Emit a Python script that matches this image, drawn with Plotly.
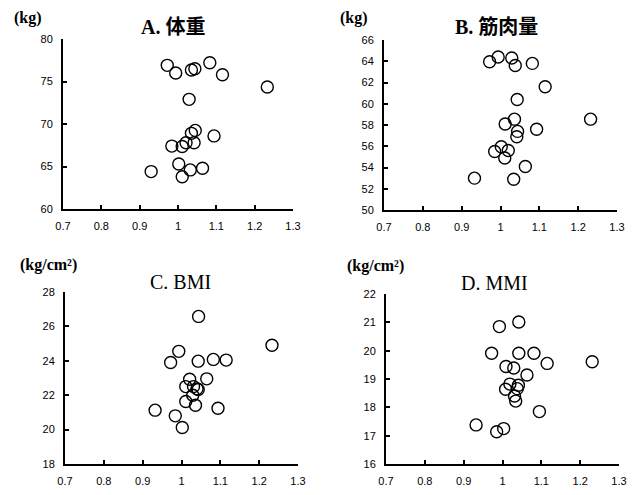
import plotly.graph_objects as go

# Panel A: 体重 (kg)
a_x = [0.930, 0.972, 0.984, 0.994, 1.002, 1.011, 1.011, 1.021, 1.029, 1.032,
       1.035, 1.035, 1.042, 1.044, 1.045, 1.064, 1.083, 1.094, 1.116, 1.233]
a_y = [64.4, 76.9, 67.4, 76.0, 65.3, 67.35, 63.8, 67.8, 72.9, 64.6,
       76.35, 68.9, 67.8, 76.5, 69.25, 64.8, 77.2, 68.6, 75.8, 74.35]

# Panel B: 筋肉量 (kg)
b_x = [0.933, 0.972, 0.985, 0.994, 1.002, 1.011, 1.012, 1.020, 1.029, 1.034,
       1.036, 1.038, 1.042, 1.043, 1.044, 1.064, 1.082, 1.093, 1.115, 1.232]
b_y = [53.0, 63.95, 55.5, 64.4, 55.95, 54.9, 58.1, 55.6, 64.3, 52.9,
       58.55, 63.6, 56.9, 60.4, 57.4, 54.1, 63.8, 57.6, 61.6, 58.55]

# Panel C: BMI (kg/cm2)
c_x = [0.932, 0.972, 0.984, 0.993, 1.002, 1.011, 1.011, 1.021, 1.029, 1.031,
       1.036, 1.040, 1.043, 1.043, 1.044, 1.065, 1.082, 1.094, 1.115, 1.233]
c_y = [21.13, 23.9, 20.8, 24.55, 20.12, 22.5, 21.63, 22.93, 22.0, 22.5,
       21.42, 22.37, 22.33, 23.98, 26.58, 22.95, 24.08, 21.24, 24.04, 24.9]

# Panel D: MMI (kg/cm2)
d_x = [0.932, 0.972, 0.985, 0.992, 1.003, 1.008, 1.009, 1.019, 1.029, 1.031,
       1.034, 1.038, 1.041, 1.042, 1.042, 1.063, 1.081, 1.095, 1.115, 1.231]
d_y = [17.38, 19.91, 17.14, 20.85, 17.25, 18.64, 19.44, 18.82, 19.39, 18.4,
       18.22, 18.66, 18.78, 19.91, 21.01, 19.14, 19.91, 17.85, 19.55, 19.61]

x_ticks = [0.7, 0.8, 0.9, 1.0, 1.1, 1.2, 1.3]
x_ticklabels = ["0.7", "0.8", "0.9", "1", "1.1", "1.2", "1.3"]

titles = ["A. 体重", "B. 筋肉量", "C. BMI", "D. MMI"]
title_weights = ["bold", "bold", "normal", "normal"]
units = ["(kg)", "(kg)", "(kg/cm²)", "(kg/cm²)"]
y_ranges = [[60, 80], [50, 66], [18, 28], [16, 22]]
y_dticks = [5, 2, 2, 1]

panels = [(a_x, a_y), (b_x, b_y), (c_x, c_y), (d_x, d_y)]

W, H = 633, 495
# pixel geometry of plot areas (left, right, top, bottom)
boxes = [(63, 293, 39, 209), (384, 617, 40, 210), (65, 298, 292, 464), (386, 619, 294, 464)]
title_pos = [(173, 27), (496, 27), (180, 282), (494, 283)]
unit_pos = [(28, 18), (354, 18), (48, 265), (375, 266)]

fig = go.Figure()
layout = dict(width=W, height=H, margin=dict(l=0, r=0, t=0, b=0, pad=0, autoexpand=False),
              paper_bgcolor="white", plot_bgcolor="white", showlegend=False)
annotations = []
for i, ((xs, ys), box) in enumerate(zip(panels, boxes)):
    n = "" if i == 0 else str(i + 1)
    fig.add_trace(go.Scatter(x=xs, y=ys, mode="markers", xaxis="x" + n, yaxis="y" + n,
                             marker=dict(symbol="circle-open", size=12, color="black",
                                         line=dict(width=1.4, color="black"))))
    l, r, t, b = box
    axstyle = dict(showline=True, linecolor="black", linewidth=2, showgrid=False,
                   zeroline=False, ticks="inside", ticklen=4, tickwidth=2, tickcolor="black",
                   automargin=False,
                   tickfont=dict(family="Liberation Sans, Arial", size=11, color="black"))
    layout["xaxis" + n] = dict(axstyle, domain=[l / W, r / W], range=[0.7, 1.3],
                               tickvals=x_ticks, ticktext=x_ticklabels, anchor="y" + n,
                               ticklabelstandoff=6)
    layout["yaxis" + n] = dict(axstyle, domain=[1 - b / H, 1 - t / H], range=y_ranges[i],
                               dtick=y_dticks[i], tick0=y_ranges[i][0], anchor="x" + n,
                               ticklabelstandoff=6)
    tx, ty = title_pos[i]
    annotations.append(dict(text=titles[i], x=tx / W, y=1 - ty / H, xref="paper", yref="paper",
                            showarrow=False, xanchor="center", yanchor="middle",
                            font=dict(family="Liberation Serif, Noto Sans CJK JP", size=20,
                                      color="black", weight=title_weights[i])))
    ux, uy = unit_pos[i]
    annotations.append(dict(text=units[i], x=ux / W, y=1 - uy / H, xref="paper", yref="paper",
                            showarrow=False, xanchor="center", yanchor="middle",
                            font=dict(family="Liberation Serif", size=16, color="black",
                                      weight="bold")))
layout["annotations"] = annotations
fig.update_layout(**layout)
fig.write_html("out.html", config={"displayModeBar": False},
               post_script="document.body.style.margin='0';document.body.style.overflow='hidden';")
